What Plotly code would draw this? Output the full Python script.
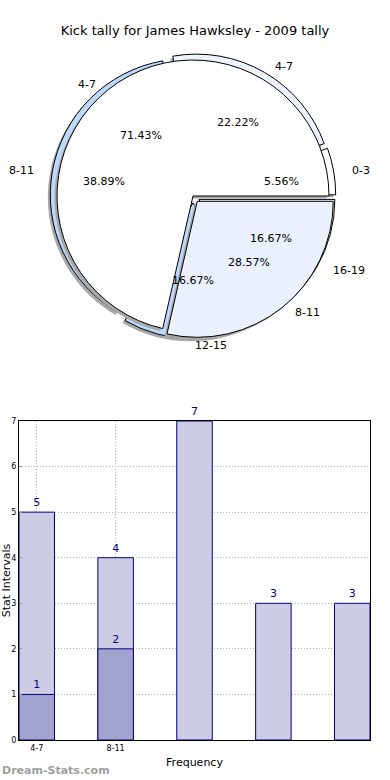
import math
import plotly.graph_objects as go

# ---- data ----
title = "Kick tally for James Hawksley - 2009 tally"
outer_labels = ["0-3", "4-7", "8-11", "12-15", "16-19"]
outer_values = [1, 4, 7, 3, 3]
inner_labels = ["4-7", "8-11"]
inner_values = [5, 2]
bar_light = [5, 4, 7, 3, 3]
bar_dark = [1, 2]
bar_ticks = ["4-7", "8-11"]

# ---- geometry (pixels) ----
W, H = 390, 780
CX, CY = 193, 196
R = 136            # drawn pie radius (plotly pies are circular)
RX, RY = 139, 130  # text placement radii
PULL = 0.05
half = R * (1 + PULL)
dom_x = [(CX - half) / W, (CX + half) / W]
dom_y = [1 - (CY + half) / H, 1 - (CY - half) / H]

def shifted(dx, dy):
    return dict(x=[dom_x[0] + dx / W, dom_x[1] + dx / W],
                y=[dom_y[0] - dy / H, dom_y[1] - dy / H])

outer_colors = ["#ffffff", "#eef4fd", "#bcd8fb", "#bcd8fb", "#eef4fd"]
inner_colors = ["#ffffff", "#ebf1fc"]
outer_pull = [PULL] * len(outer_values)
inner_pull = [0, PULL]

fig = go.Figure()

def pie(values, labels, colors, pull, domain, line=True):
    # plotly places the first counterclockwise slice ending at `rotation`;
    # shift so the first slice starts at 3 o'clock like the reference
    rot = 90 - 360.0 * values[0] / sum(values)
    return go.Pie(values=values, labels=labels, sort=False, direction="counterclockwise",
                  rotation=rot, pull=pull, domain=domain, textinfo="none",
                  hoverinfo="skip", showlegend=False,
                  marker=dict(colors=colors,
                              line=dict(color="#000000" if line else "rgba(0,0,0,0)", width=1 if line else 0)))

fig.add_trace(pie(outer_values, outer_labels, ["#a8a8a8"] * 5, outer_pull, shifted(-2.5, 2.5), line=False))
fig.add_trace(pie(outer_values, outer_labels, outer_colors, outer_pull, dict(x=dom_x, y=dom_y)))
fig.add_trace(pie(inner_values, inner_labels, ["#a8a8a8"] * 2, inner_pull, shifted(-2.5, 2.5), line=False))
fig.add_trace(pie(inner_values, inner_labels, inner_colors, inner_pull, dict(x=dom_x, y=dom_y)))

annotations = []

def pie_text(values, labels, pulls):
    total = sum(values)
    start = 0.0
    for v, lab, p in zip(values, labels, pulls):
        frac = v / total
        mid = (start + frac / 2) * 2 * math.pi
        start += frac
        c, s = math.cos(mid), math.sin(mid)
        ox = p * RX * c
        oy = -p * RY * s
        for dist, txt, anchor in ((0.6, "%.2f%%" % (frac * 100), "center"),
                                  (1.1, lab, "left" if c > -1e-6 else "right")):
            px = CX + ox + dist * RX * c
            py = CY + oy - dist * RY * s
            annotations.append(dict(x=px / W, y=1 - py / H, xref="paper", yref="paper",
                                    text=txt, showarrow=False,
                                    font=dict(family="DejaVu Sans", size=11, color="#000000"),
                                    xanchor=anchor, yanchor="middle"))

pie_text(outer_values, outer_labels, outer_pull)
pie_text(inner_values, inner_labels, inner_pull)

# ---- bars ----
xs_light = list(range(len(bar_light)))
xs_dark = list(range(len(bar_dark)))
fig.add_trace(go.Bar(x=xs_light, y=bar_light, width=0.45, text=[str(v) for v in bar_light],
                     textposition="outside", cliponaxis=False,
                     textfont=dict(family="DejaVu Sans", size=11, color="#00008b"),
                     marker=dict(color="#ccccE4", line=dict(color="#00007f", width=1)),
                     xaxis="x", yaxis="y", showlegend=False, hoverinfo="skip"))
fig.add_trace(go.Bar(x=xs_dark, y=bar_dark, width=0.45, text=[str(v) for v in bar_dark],
                     textposition="outside", cliponaxis=False,
                     textfont=dict(family="DejaVu Sans", size=11, color="#00008b"),
                     marker=dict(color="#a3a3d0", line=dict(color="#00007f", width=1)),
                     xaxis="x", yaxis="y", showlegend=False, hoverinfo="skip"))

annotations.append(dict(x=0, y=1 - 770 / H, xref="paper", yref="paper", text="<b>Dream-Stats.com</b>",
                        showarrow=False, xanchor="left", yanchor="middle",
                        font=dict(family="DejaVu Sans", size=11, color="#a0a0a0")))

fig.update_layout(
    width=W, height=H, autosize=False,
    margin=dict(l=0, r=0, t=0, b=0),
    paper_bgcolor="white", plot_bgcolor="white",
    barmode="overlay",
    title=dict(text=title, x=0.5, xanchor="center", y=1 - 30 / H, yanchor="middle",
               font=dict(family="DejaVu Sans", size=13, color="#000000")),
    xaxis=dict(domain=[19 / W, 370 / W], range=[-0.225, 4.225], tickvals=[0, 1], ticktext=bar_ticks,
               showgrid=True, gridcolor="#b0b0b0", griddash="1px,2px", gridwidth=1,
               showline=True, linecolor="#000000", linewidth=1, mirror=True, automargin=False,
               ticks="inside", ticklen=3, tickcolor="#888888", zeroline=False,
               tickfont=dict(family="DejaVu Sans", size=8, color="#000000"),
               title=dict(text="Frequency", standoff=6,
                          font=dict(family="DejaVu Sans", size=11, color="#000000"))),
    yaxis=dict(domain=[1 - 740 / H, 1 - 421 / H], range=[0, 7], dtick=1,
               showgrid=True, gridcolor="#b0b0b0", griddash="1px,2px", gridwidth=1,
               showline=True, linecolor="#000000", linewidth=1, mirror=True, automargin=False,
               ticks="inside", ticklen=3, tickcolor="#888888", zeroline=False,
               tickfont=dict(family="DejaVu Sans", size=8, color="#000000"),
               title=dict(text="Stat Intervals", standoff=2,
                          font=dict(family="DejaVu Sans", size=11, color="#000000"))),
    annotations=annotations,
)

fig.write_html("out.html", config={"displayModeBar": False},
               post_script="document.body.style.margin='0px';")
